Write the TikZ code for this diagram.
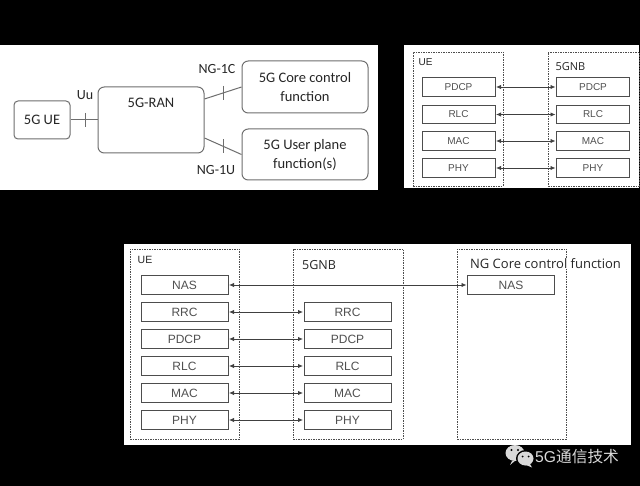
\documentclass[tikz,border=0pt]{standalone}
\usepackage{fontspec}
\setmainfont{Liberation Sans}
\newfontfamily\carlitofont{Carlito}
\newfontfamily\opensansfont{Open Sans}
\newfontfamily\cjkfont{Noto Sans CJK SC}
\usetikzlibrary{arrows.meta,positioning,calc}
\definecolor{Edge}{HTML}{6E6E6E}
\definecolor{Frame}{HTML}{4D4D4D}
\definecolor{Ink}{HTML}{505050}
\definecolor{Mark}{HTML}{D9D9D9}
\tikzset{
panelbox/.style={fill=white, draw=none, inner sep=0pt, outer sep=0pt},
netbox/.style={draw=Edge, line width=1pt, rounded corners=2.2mm, fill=white, align=center, inner sep=0pt, font=\carlitofont\fontsize{14.5}{19}\selectfont, text=black!85},
netlabel/.style={font=\carlitofont\fontsize{14}{16}\selectfont, text=black!85, inner sep=0pt},
netline/.style={draw=Edge, line width=1pt},
layerframe/.style={draw=Frame, dash pattern=on 1.5pt off 1pt, line width=0.9pt, fill=white, inner sep=0pt, outer sep=0pt},
smalllayer/.style={draw=Frame, line width=1pt, fill=white, minimum width=73pt, minimum height=18.5pt, inner sep=0pt, outer sep=1pt, font=\fontsize{10}{12}\selectfont, text=Ink},
biglayer/.style={draw=Frame, line width=1pt, fill=white, minimum width=87pt, minimum height=18.5pt, inner sep=0pt, outer sep=1pt, font=\fontsize{12}{14}\selectfont, text=Ink},
layerarrow/.style={{Latex[length=5pt,width=4.4pt]}-{Latex[length=5pt,width=4.4pt]}, draw=black!75, line width=0.8pt},
framelabel/.style={inner sep=0pt, text=black!85}
}
\begin{document}
\begin{tikzpicture}[x=1pt, y=-1pt]
  \useasboundingbox[fill=black] (0,0) rectangle (640,486);
  % network panel
  \node[panelbox, minimum width=378pt, minimum height=145pt] (netpanel) at (189,117.5) {};
  \node[netbox, minimum width=56pt, minimum height=38pt, rounded corners=1.4mm] (ue) at (42,120) {5G UE};
  \node[netbox, minimum width=106pt, minimum height=66pt] (ran) at (151,120) {};
  \node[netlabel, font=\carlitofont\fontsize{14.5}{16}\selectfont] (rantext) at (151,103) {5G-RAN};
  \node[netbox, minimum width=126pt, minimum height=52pt] (core) at (305,87) {5G Core control\\function};
  \node[netbox, minimum width=126pt, minimum height=51pt] (user) at (305,154.5) {5G User plane\\function(s)};
  \draw[netline] (ue) -- coordinate[pos=0.57] (uutick) (ran);
  \draw[netline] ([yshift=21pt]ran.east) -- coordinate[pos=0.5] (ctick) (core.west);
  \draw[netline] ([yshift=-18pt]ran.east) -- coordinate[pos=0.5] (utick) (user.west);
  \draw[netline] (uutick) ++(0,-7) -- ++(0,14);
  \draw[netline] (ctick) ++(0,-7) -- ++(0,14);
  \draw[netline] (utick) ++(0,-7) -- ++(0,14);
  \node[netlabel] (uulabel) at (85,95.5) {Uu};
  \node[netlabel] (ngc) at (217,69) {NG-1C};
  \node[netlabel] (ngu) at (216,170) {NG-1U};
  % small protocol panel
  \node[panelbox, minimum width=235pt, minimum height=143pt] (smallpanel) at (521.5,116.5) {};
  \node[layerframe, minimum width=90pt, minimum height=134pt] (smallue) at (458,119) {};
  \node[layerframe, minimum width=91pt, minimum height=134pt] (smallgnb) at (593.5,119) {};
  \node[framelabel, font=\fontsize{10}{12}\selectfont] (smalluetext) at (425.5,62.5) {UE};
  \node[framelabel, font=\opensansfont\fontsize{11}{12}\selectfont] (smallgnbtext) at (570.5,67) {5GNB};
  \node[smalllayer] (pdcpa) at (458.5,87) {PDCP};
  \node[smalllayer] (rlca) at (458.5,114.5) {RLC};
  \node[smalllayer] (maca) at (458.5,141) {MAC};
  \node[smalllayer] (phya) at (458.5,168) {PHY};
  \node[smalllayer] (pdcpb) at (593,87) {PDCP};
  \node[smalllayer] (rlcb) at (593,114.5) {RLC};
  \node[smalllayer] (macb) at (593,141) {MAC};
  \node[smalllayer] (phyb) at (593,168) {PHY};
  \draw[layerarrow] (pdcpa) -- (pdcpb);
  \draw[layerarrow] (rlca) -- (rlcb);
  \draw[layerarrow] (maca) -- (macb);
  \draw[layerarrow] (phya) -- (phyb);
  % big protocol panel
  \node[panelbox, minimum width=507pt, minimum height=201pt] (bigpanel) at (377.5,344.5) {};
  \node[layerframe, minimum width=109pt, minimum height=190pt] (bigue) at (184.5,344) {};
  \node[layerframe, minimum width=110pt, minimum height=190pt] (biggnb) at (348,344) {};
  \node[layerframe, minimum width=109pt, minimum height=190pt] (bigcore) at (511.5,344) {};
  \node[framelabel, font=\fontsize{10.5}{12}\selectfont] (biguetext) at (145,260) {UE};
  \node[framelabel, font=\opensansfont\fontsize{12.5}{14}\selectfont] (biggnbtext) at (319,265) {5GNB};
  \node[framelabel, font=\opensansfont\fontsize{13}{15}\selectfont, fill=white, inner xsep=1pt] (bigcoretext) at (545.5,263.5) {NG Core control function};
  \node[biglayer] (nasa) at (184.5,285) {NAS};
  \node[biglayer] (rrca) at (184.5,312) {RRC};
  \node[biglayer] (pdcpc) at (184.5,339) {PDCP};
  \node[biglayer] (rlcc) at (184.5,366) {RLC};
  \node[biglayer] (macc) at (184.5,393) {MAC};
  \node[biglayer] (phyc) at (184.5,420) {PHY};
  \node[biglayer] (rrcb) at (347.5,312) {RRC};
  \node[biglayer] (pdcpd) at (347.5,339) {PDCP};
  \node[biglayer] (rlcd) at (347.5,366) {RLC};
  \node[biglayer] (macd) at (347.5,393) {MAC};
  \node[biglayer] (phyd) at (347.5,420) {PHY};
  \node[biglayer] (nasb) at (511,285) {NAS};
  \draw[layerarrow] (nasa) -- (nasb);
  \draw[layerarrow] (rrca) -- (rrcb);
  \draw[layerarrow] (pdcpc) -- (pdcpd);
  \draw[layerarrow] (rlcc) -- (rlcd);
  \draw[layerarrow] (macc) -- (macd);
  \draw[layerarrow] (phyc) -- (phyd);
  % watermark
  \fill[Mark] (515,453) ellipse (9.5pt and 8pt);
  \fill[Mark] (512,461) -- (510,465) -- (516,460) -- cycle;
  \fill[black] (525.5,458.5) ellipse (9.5pt and 8.5pt);
  \fill[Mark] (525.5,458.5) ellipse (8pt and 7pt);
  \fill[Mark] (530,464) -- (532,467.5) -- (526,465) -- cycle;
  \fill[black] (511.5,450) circle (1.1pt) (518,450) circle (1.1pt) (522.5,456.5) circle (1pt) (528.5,456.5) circle (1pt);
  \node[font=\fontsize{15.7}{17}\selectfont, text=Mark, inner sep=0pt, anchor=west] (marktext) at (535,457) {5G{\cjkfont 通信技术}};
\end{tikzpicture}
\end{document}
